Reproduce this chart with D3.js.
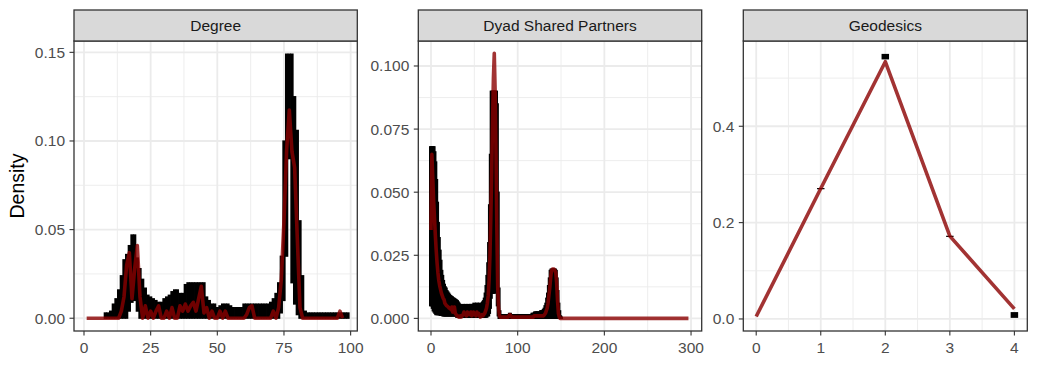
<!DOCTYPE html>
<html><head><meta charset="utf-8">
<script src="https://cdn.jsdelivr.net/npm/d3@7"></script>
<style>
  body { margin:0; background:#fff; }
  svg { display:block; font-family:"Liberation Sans", Arial, sans-serif; }
</style>
</head><body>
<svg id="chart" width="1038" height="389"></svg>
<script>
// ---- data ----
// Degree: observed density for degree 1..97
const degreeObs = [
  0,0,0,0,0,0,0,0,0,0,
  0,0,0,0.004,0.012,0.03,0.037,0.011,0.028,0.041,
  0.012,0,0.007,0,0.004,0,0.004,0.007,0,0,
  0.004,0,0.006,0,0,0.007,0.004,0.008,0.004,0.007,
  0.009,0.004,0.011,0.018,0.003,0.006,0,0.004,0,0,
  0.004,0,0.004,0,0,0,0,0,0,0,
  0.002,0.006,0.007,0,0,0,0,0,0,0,
  0.004,0,0.006,0.022,0.055,0.095,0.1175,0.094,0.085,0.045,
  0.006,0,0,0,0,0,0,0,0,0,
  0,0,0,0,0,0.004,0
];
// Degree: simulated range (low / high) for degree 8..99
const degreeSimHi = [
  0.003,0.003,0.004,0.008,0.011,0.016,0.024,0.033,0.036,0.041,
  0.047,0.047,0.034,0.028,0.022,0.017,0.013,0.012,0.011,0.01,
  0.009,0.009,0.011,0.012,0.013,0.015,0.016,0.016,0.014,0.014,
  0.019,0.02,0.02,0.02,0.02,0.02,0.02,0.02,0.012,0.01,
  0.008,0.008,0.006,0.007,0.008,0.008,0.008,0.007,0.006,0.006,
  0.006,0.006,0.008,0.008,0.008,0.008,0.008,0.008,0.008,0.008,
  0.008,0.008,0.009,0.011,0.014,0.02,0.035,0.1,0.149,0.149,
  0.149,0.125,0.106,0.055,0.024,0.004,0.003,0.003,0.003,0.003,
  0.003,0.003,0.003,0.003,0.003,0.003,0.003,0.003,0.003,0.003,
  0.003,0.003
];
const degreeSimLo = [
  0,0,0,0,0,0,0,0,0,0.004,
  0.009,0.01,0.004,0,0,0,0,0,0,0,
  0,0,0,0,0,0,0,0,0,0,
  0,0,0,0,0,0,0,0,0,0,
  0,0,0,0,0,0,0,0,0,0,
  0,0,0,0,0,0,0,0,0,0,
  0,0,0,0,0,0,0.003,0.01,0.035,0.09,
  0.02,0.008,0.002,0,0,0,0,0,0,0,
  0,0,0,0,0,0,0,0,0,0,
  0,0
];

// Dyad shared partners: observed density for 0..297
const dspObs = [
  0.035,0.065,0.056,0.047,0.04,0.033,0.027,0.022,0.018,0.015,
  0.013,0.0115,0.01,0.009,0.008,0.0075,0.006,0.0055,0.005,0.0048,
  0.0045,0.004,0.004,0.0035,0.0045,0.0025,0.003,0.0045,0.002,0.0015,
  0.001,0.001,0.0005,0.0005,0.001,0.0005,0.001,0.0015,0.0025,0.0015,
  0.002,0.001,0.0025,0.0015,0.002,0.0015,0.0025,0.001,0.002,0.0025,
  0.0015,0.002,0.001,0.0025,0.0015,0.002,0.001,0.0005,0.001,0.0015,
  0.001,0.0015,0.002,0.003,0.004,0.006,0.009,0.015,0.025,0.04,
  0.058,0.078,0.095,0.105,0.09,0.065,0.035,0.012,0.004,0.001,
  0.0005,0.0005,0.0005,0.0005,0.0005,0.0005,0.0005,0.0005,0.0005,0.0005,
  0.001,0.0015,0.001,0.0005,0.0005,0.0005,0.0005,0.0005,0.0005,0.0005,
  0.0005,0.0005,0.0005,0.0005,0.0005,0.0005,0.0005,0.0005,0.0005,0.0005,
  0.0005,0.0005,0.0005,0.0005,0.0005,0.0005,0.0005,0.0005,0.0005,0.001,
  0.001,0.001,0.001,0.001,0.001,0.001,0.001,0.001,0.001,0.001,
  0.001,0.0015,0.002,0.003,0.004,0.006,0.009,0.012,0.016,0.019,
  0.0195,0.0195,0.0195,0.019,0.018,0.014,0.007,0.002,0.0005,0,
  0,0,0,0,0,0,0,0,0,0,0,0,0,0,0,0,0,0,0,0,
  0,0,0,0,0,0,0,0,0,0,0,0,0,0,0,0,0,0,0,0,
  0,0,0,0,0,0,0,0,0,0,0,0,0,0,0,0,0,0,0,0,
  0,0,0,0,0,0,0,0,0,0,0,0,0,0,0,0,0,0,0,0,
  0,0,0,0,0,0,0,0,0,0,0,0,0,0,0,0,0,0,0,0,
  0,0,0,0,0,0,0,0,0,0,0,0,0,0,0,0,0,0,0,0,
  0,0,0,0,0,0,0,0,0,0,0,0,0,0,0,0,0,0,0,0,
  0,0,0,0,0,0,0,0
];
// Dyad shared partners: simulated range for 0..150
const dspSimHi = [
  0.068,0.068,0.068,0.068,0.066,0.062,0.055,0.046,0.038,0.032,
  0.027,0.023,0.019,0.017,0.015,0.0135,0.0125,0.012,0.011,0.0105,
  0.01,0.0095,0.009,0.0088,0.0086,0.0082,0.008,0.0078,0.0075,0.0073,
  0.007,0.0065,0.006,0.0055,0.0053,0.0053,0.0053,0.0055,0.0053,0.0053,
  0.0055,0.0053,0.0053,0.0055,0.0053,0.0053,0.0055,0.0055,0.0053,0.0055,
  0.006,0.0055,0.0055,0.006,0.0055,0.0055,0.006,0.0055,0.0055,0.006,
  0.0065,0.007,0.008,0.01,0.013,0.017,0.022,0.03,0.045,0.065,
  0.09,0.09,0.09,0.09,0.09,0.09,0.085,0.05,0.012,0.003,
  0.0015,0.0015,0.0015,0.0015,0.0015,0.0015,0.0015,0.0015,0.0015,0.0015,
  0.0015,0.002,0.0015,0.0015,0.0015,0.0015,0.0015,0.0015,0.0015,0.0015,
  0.0015,0.0015,0.0015,0.0015,0.0015,0.0015,0.0015,0.0015,0.0015,0.0015,
  0.0015,0.0015,0.0015,0.0015,0.0015,0.0015,0.0015,0.002,0.002,0.002,
  0.0025,0.0025,0.0025,0.0025,0.0025,0.0025,0.0025,0.003,0.003,0.003,
  0.0035,0.004,0.005,0.006,0.008,0.01,0.013,0.016,0.019,0.0195,
  0.0195,0.0195,0.0195,0.0195,0.019,0.016,0.011,0.006,0.003,0.001,
  0.0005
];
const dspSimLo = [
  0.005,0.005,0.004,0.003,0.0025,0.002,0.0015,0.0015,0.0015,0.0015,
  0.0015,0.0012,0.0012,0.0012,0.001,0.001,0.001,0.001,0.001,0.001,
  0.001,0.001,0.001,0.001,0.001,0.001,0.001,0.001,0.001,0.001,
  0.0005,0.0005,0.0005,0.0005,0.0005,0.0005,0.0005,0.0005,0.0005,0.0005,
  0.0005,0.0005,0.0005,0.0005,0.0005,0.0005,0.0005,0.0005,0.0005,0.0005,
  0.0005,0.0005,0.0005,0.0005,0.0005,0.0005,0.0005,0.0005,0.0005,0.0005,
  0.0005,0.0005,0.0005,0.0005,0.0005,0.001,0.001,0.002,0.004,0.008,
  0.01,0.01,0.01,0.01,0.02,0.05,0.02,0.005,0.001,0,
  0,0,0,0,0,0,0,0,0,0,
  0,0,0,0,0,0,0,0,0,0,
  0,0,0,0,0,0,0,0,0,0,
  0,0,0,0,0,0,0,0,0,0,
  0,0,0,0,0,0,0,0,0,0,
  0,0,0,0,0,0,0,0,0,0,
  0,0,0,0,0,0,0,0,0,0,
  0
];

// Geodesics
const geoObs = [0.005, 0.2707, 0.534, 0.172, 0.021];        // distance 0..4
const geoSimLo = [0.2705, 0.540, 0.1715, 0.0035];           // distance 1..4
const geoSimHi = [0.2705, 0.549, 0.1715, 0.013];

const yLabel = "Density";

// ---- layout ----
const svg = d3.select("#chart");
const plotTop = 41, plotBottom = 331, stripTop = 10;

const panels = [
  { title: "Degree", x0: 74, x1: 357.3, xDomain: [-3.75, 102.5], yDomain: [-0.0072, 0.1564],
    xTicks: [0, 25, 50, 75, 100], xMinor: [12.5, 37.5, 62.5, 87.5],
    yTicks: [0, 0.05, 0.10, 0.15], yMinor: [0.025, 0.075, 0.125], yFmt: d3.format(".2f"),
    obs: degreeObs, obsStart: 1, lo: degreeSimLo, hi: degreeSimHi, simStart: 8, barW: 3.3 },
  { title: "Dyad Shared Partners", x0: 418.3, x1: 701.7, xDomain: [-14.65, 312.3], yDomain: [-0.005, 0.1099],
    xTicks: [0, 100, 200, 300], xMinor: [50, 150, 250],
    yTicks: [0, 0.025, 0.05, 0.075, 0.1], yMinor: [0.0125, 0.0375, 0.0625, 0.0875], yFmt: d3.format(".3f"),
    obs: dspObs, obsStart: 0, lo: dspSimLo, hi: dspSimHi, simStart: 0, barW: 4 },
  { title: "Geodesics", x0: 743.3, x1: 1027.3, xDomain: [-0.2, 4.2], yDomain: [-0.025, 0.577],
    xTicks: [0, 1, 2, 3, 4], xMinor: [0.5, 1.5, 2.5, 3.5],
    yTicks: [0, 0.2, 0.4], yMinor: [0.1, 0.3, 0.5], yFmt: d3.format(".1f"),
    obs: geoObs, obsStart: 0, lo: geoSimLo, hi: geoSimHi, simStart: 1, barW: 7.5 }
];

panels.forEach((p, pi) => {
  const x = d3.scaleLinear().domain(p.xDomain).range([p.x0, p.x1]);
  const y = d3.scaleLinear().domain(p.yDomain).range([plotBottom, plotTop]);
  const g = svg.append("g");

  g.append("clipPath").attr("id", "clip" + pi)
    .append("rect").attr("x", p.x0).attr("y", plotTop).attr("width", p.x1 - p.x0).attr("height", plotBottom - plotTop);

  // grid
  const grid = g.append("g");
  grid.selectAll(".ymin").data(p.yMinor).join("line")
    .attr("x1", p.x0).attr("x2", p.x1).attr("y1", d => y(d)).attr("y2", d => y(d))
    .attr("stroke", "#EBEBEB").attr("stroke-width", 0.9);
  grid.selectAll(".xmin").data(p.xMinor).join("line")
    .attr("y1", plotTop).attr("y2", plotBottom).attr("x1", d => x(d)).attr("x2", d => x(d))
    .attr("stroke", "#EBEBEB").attr("stroke-width", 0.9);
  grid.selectAll(".ymaj").data(p.yTicks).join("line")
    .attr("x1", p.x0).attr("x2", p.x1).attr("y1", d => y(d)).attr("y2", d => y(d))
    .attr("stroke", "#EBEBEB").attr("stroke-width", 1.8);
  grid.selectAll(".xmaj").data(p.xTicks).join("line")
    .attr("y1", plotTop).attr("y2", plotBottom).attr("x1", d => x(d)).attr("x2", d => x(d))
    .attr("stroke", "#EBEBEB").attr("stroke-width", 1.8);

  const plot = g.append("g").attr("clip-path", `url(#clip${pi})`);

  // simulated ranges (black)
  const sims = p.lo.map((lo, i) => ({ k: p.simStart + i, lo, hi: p.hi[i] }));
  plot.selectAll("rect.sim").data(sims).join("rect")
    .attr("x", d => x(d.k) - p.barW / 2)
    .attr("width", p.barW)
    .attr("y", d => y(d.hi) - 0.6)
    .attr("height", d => y(d.lo) - y(d.hi) + 1.2)
    .attr("fill", "#000");

  // observed (red)
  const line = d3.line().x((d, i) => x(p.obsStart + i)).y(d => y(d));
  plot.append("path").datum(p.obs).attr("d", line)
    .attr("fill", "none").attr("stroke", "#8B0000").attr("stroke-opacity", 0.8)
    .attr("stroke-width", 3.6).attr("stroke-linejoin", "round");

  // panel border
  g.append("rect").attr("x", p.x0).attr("y", plotTop).attr("width", p.x1 - p.x0).attr("height", plotBottom - plotTop)
    .attr("fill", "none").attr("stroke", "#333333").attr("stroke-width", 1.3);

  // strip
  g.append("rect").attr("x", p.x0).attr("y", stripTop).attr("width", p.x1 - p.x0).attr("height", plotTop - stripTop)
    .attr("fill", "#D9D9D9").attr("stroke", "#333333").attr("stroke-width", 1.3);
  g.append("text").attr("x", (p.x0 + p.x1) / 2).attr("y", (stripTop + plotTop) / 2).attr("dy", "0.35em")
    .attr("text-anchor", "middle").attr("font-size", 15.5).attr("fill", "#1A1A1A").text(p.title);

  // axes
  const ax = g.append("g");
  ax.selectAll(".xt").data(p.xTicks).join("line")
    .attr("x1", d => x(d)).attr("x2", d => x(d)).attr("y1", plotBottom).attr("y2", plotBottom + 4.5)
    .attr("stroke", "#333333").attr("stroke-width", 1.1);
  ax.selectAll(".xl").data(p.xTicks).join("text")
    .attr("x", d => x(d)).attr("y", 352.5).attr("text-anchor", "middle")
    .attr("font-size", 15.5).attr("fill", "#4D4D4D").text(d => d);
  ax.selectAll(".yt").data(p.yTicks).join("line")
    .attr("x1", p.x0 - 4.5).attr("x2", p.x0).attr("y1", d => y(d)).attr("y2", d => y(d))
    .attr("stroke", "#333333").attr("stroke-width", 1.1);
  ax.selectAll(".yl").data(p.yTicks).join("text")
    .attr("x", p.x0 - 9).attr("y", d => y(d)).attr("dy", "0.35em").attr("text-anchor", "end")
    .attr("font-size", 15.5).attr("fill", "#4D4D4D").text(d => p.yFmt(d));
});

svg.append("text").attr("transform", `translate(24,${(plotTop + plotBottom) / 2}) rotate(-90)`)
  .attr("text-anchor", "middle").attr("font-size", 19.5).attr("fill", "#000").text(yLabel);
</script>
</body></html>
